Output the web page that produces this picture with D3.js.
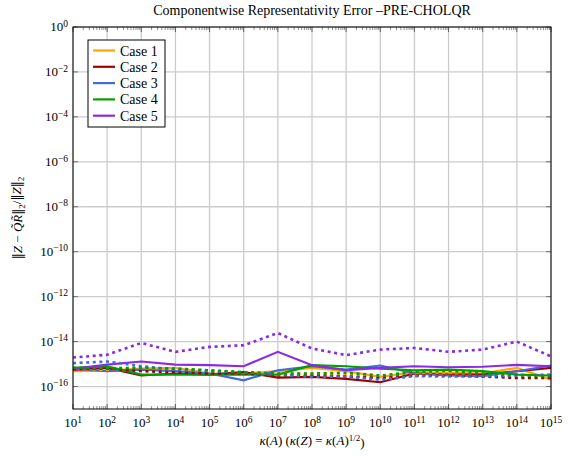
<!DOCTYPE html>
<html>
<head>
<meta charset="utf-8">
<script src="https://cdn.jsdelivr.net/npm/d3@7"></script>
<style>
body { margin: 0; background: #fff; }
text { font-family: "Liberation Serif", "DejaVu Serif", serif; }
</style>
</head>
<body>
<div id="chart"></div>
<script>
const w = 568,
    h = 456;
const margin = {top: 27, right: 17, bottom: 47, left: 73};

// x: kappa(A) = 10^1 .. 10^15
const kappa = [1e1, 1e2, 1e3, 1e4, 1e5, 1e6, 1e7, 1e8, 1e9, 1e10, 1e11, 1e12, 1e13, 1e14, 1e15];
const caseNames = ["Case 1", "Case 2", "Case 3", "Case 4", "Case 5"];
const caseColors = ["#ffa500", "#a00000", "#4169e1", "#00a000", "#8a2be2"];

// solid lines
const case1 = [4.8e-16, 5.1e-16, 6.3e-16, 6.8e-16, 3.8e-16, 3.8e-16, 4.8e-16, 6.8e-16, 4.8e-16, 2.7e-16, 4.4e-16, 4.1e-16, 3.8e-16, 6.8e-16, 2.0e-16];
const case2 = [5.7e-16, 6.8e-16, 3.1e-16, 3.8e-16, 3.4e-16, 4.4e-16, 2.5e-16, 2.7e-16, 2.2e-16, 1.55e-16, 3.8e-16, 3.4e-16, 3.4e-16, 4.8e-16, 6.8e-16];
const case3 = [6.1e-16, 4.8e-16, 5.7e-16, 4.8e-16, 3.8e-16, 1.9e-16, 5.3e-16, 8.0e-16, 5.7e-16, 8.6e-16, 3.8e-16, 3.1e-16, 2.9e-16, 4.8e-16, 8.6e-16];
const case4 = [6.8e-16, 8.0e-16, 3.4e-16, 3.4e-16, 3.4e-16, 3.4e-16, 3.4e-16, 8.9e-16, 8.0e-16, 6.3e-16, 5.3e-16, 5.7e-16, 4.8e-16, 3.4e-16, 3.1e-16];
const case5 = [6.1e-16, 9.5e-16, 1.3e-15, 9.5e-16, 8.9e-16, 8.0e-16, 3.5e-15, 8.9e-16, 5.3e-16, 6.8e-16, 8.0e-16, 7.2e-16, 7.6e-16, 9.2e-16, 8.0e-16];

// dotted lines
const case1b = [5.1e-16, 5.7e-16, 6.5e-16, 6.3e-16, 5.1e-16, 4.2e-16, 3.8e-16, 3.8e-16, 3.4e-16, 2.4e-16, 3.4e-16, 3.4e-16, 2.8e-16, 2.8e-16, 2.4e-16];
const case2b = [5.7e-16, 6.3e-16, 4.9e-16, 4.2e-16, 3.8e-16, 3.8e-16, 3.1e-16, 3.1e-16, 2.8e-16, 2.4e-16, 3.1e-16, 3.1e-16, 2.8e-16, 2.4e-16, 2.4e-16];
const case3b = [1.1e-15, 1.3e-15, 8.0e-16, 5.7e-16, 4.8e-16, 4.2e-16, 3.4e-16, 2.7e-16, 2.8e-16, 2.0e-16, 2.9e-16, 2.8e-16, 2.8e-16, 3.1e-16, 3.4e-16];
const case4b = [6.8e-16, 6.5e-16, 6.8e-16, 6.3e-16, 5.3e-16, 4.4e-16, 3.8e-16, 3.8e-16, 4.1e-16, 3.1e-16, 4.4e-16, 5.1e-16, 3.8e-16, 3.4e-16, 2.8e-16];
const case5b = [1.95e-15, 2.6e-15, 8.7e-15, 3.5e-15, 5.8e-15, 6.9e-15, 2.4e-14, 4.9e-15, 2.5e-15, 4.4e-15, 5.2e-15, 3.5e-15, 4.4e-15, 1.0e-14, 2.2e-15];

const solid = [case1, case2, case3, case4, case5];
const dotted = [case1b, case2b, case3b, case4b, case5b];

const xTicks = d3.range(1, 16);
const yTicks = [0, -2, -4, -6, -8, -10, -12, -14, -16];

const svg = d3.select("#chart")
    .append("svg")
    .attr("width", w)
    .attr("height", h);

const xScale = d3.scaleLog()
    .domain([1e1, 1e15])
    .range([margin.left, w - margin.right]);

const yScale = d3.scaleLog()
    .domain([1e-17, 1e0])
    .range([h - margin.bottom, margin.top]);

const x0 = margin.left, x1 = w - margin.right,
    y0 = h - margin.bottom, y1 = margin.top;

// grid
svg.append("g").selectAll("line")
    .data(xTicks)
    .enter().append("line")
    .attr("x1", d => xScale(Math.pow(10, d)))
    .attr("x2", d => xScale(Math.pow(10, d)))
    .attr("y1", y0).attr("y2", y1)
    .style("stroke", "#cccccc")
    .style("stroke-width", 1.3);

svg.append("g").selectAll("line")
    .data(yTicks)
    .enter().append("line")
    .attr("x1", x0).attr("x2", x1)
    .attr("y1", d => yScale(Math.pow(10, d)))
    .attr("y2", d => yScale(Math.pow(10, d)))
    .style("stroke", "#cccccc")
    .style("stroke-width", 1.3);

// minor ticks on x (inside, top and bottom)
var minor = [];
xTicks.slice(0, -1).forEach(function (e) {
    for (var k = 2; k <= 9; k++) minor.push(k * Math.pow(10, e));
});
[y0, y1].forEach(function (yy, i) {
    var dir = i == 0 ? -1 : 1;
    svg.append("g").selectAll("line")
        .data(minor)
        .enter().append("line")
        .attr("x1", d => xScale(d)).attr("x2", d => xScale(d))
        .attr("y1", yy).attr("y2", yy + dir * 3)
        .style("stroke", "#444")
        .style("stroke-width", 0.6);
    svg.append("g").selectAll("line")
        .data(xTicks)
        .enter().append("line")
        .attr("x1", d => xScale(Math.pow(10, d))).attr("x2", d => xScale(Math.pow(10, d)))
        .attr("y1", yy).attr("y2", yy + dir * 5)
        .style("stroke", "#444")
        .style("stroke-width", 0.8);
});

// y ticks left and right
[x0, x1].forEach(function (xx, i) {
    var dir = i == 0 ? 1 : -1;
    svg.append("g").selectAll("line")
        .data(yTicks)
        .enter().append("line")
        .attr("x1", xx).attr("x2", xx + dir * 5)
        .attr("y1", d => yScale(Math.pow(10, d)))
        .attr("y2", d => yScale(Math.pow(10, d)))
        .style("stroke", "#555")
        .style("stroke-width", 0.8);
});

// lines
const line = d3.line()
    .x((d, i) => xScale(kappa[i]))
    .y(d => yScale(d));

solid.forEach(function (s, i) {
    svg.append("path")
        .datum(s)
        .attr("d", line)
        .style("fill", "none")
        .style("stroke", caseColors[i])
        .style("stroke-width", 2.2);
});
dotted.forEach(function (s, i) {
    svg.append("path")
        .datum(s)
        .attr("d", line)
        .style("fill", "none")
        .style("stroke", caseColors[i])
        .style("stroke-width", 2.6)
        .style("stroke-dasharray", "3,3.6");
});

// frame
svg.append("rect")
    .attr("x", x0).attr("y", y1)
    .attr("width", x1 - x0).attr("height", y0 - y1)
    .style("fill", "none")
    .style("stroke", "#000")
    .style("stroke-width", 1);

// tick labels
function pow10(sel, e) {
    sel.append("tspan").text("10");
    sel.append("tspan")
        .attr("dy", "-0.45em")
        .style("font-size", "9.5px")
        .text(e < 0 ? "\u2212" + (-e) : e);
}

svg.append("g").selectAll("text")
    .data(xTicks)
    .enter().append("text")
    .attr("x", d => xScale(Math.pow(10, d)))
    .attr("y", y0 + 18)
    .attr("text-anchor", "middle")
    .style("font-size", "13px")
    .each(function (d) { pow10(d3.select(this), d); });

svg.append("g").selectAll("text")
    .data(yTicks)
    .enter().append("text")
    .attr("x", x0 - 5)
    .attr("y", d => yScale(Math.pow(10, d)) + 4)
    .attr("text-anchor", "end")
    .style("font-size", "13px")
    .each(function (d) { pow10(d3.select(this), d); });

// title
svg.append("text")
    .attr("x", (x0 + x1) / 2)
    .attr("y", 15)
    .attr("text-anchor", "middle")
    .style("font-size", "14px")
    .text("Componentwise Representativity Error \u2013PRE-CHOLQR");

// x label
var xl = svg.append("text")
    .attr("x", (x0 + x1) / 2)
    .attr("y", 445)
    .attr("text-anchor", "middle")
    .style("font-size", "13px");
xl.append("tspan").style("font-style", "italic").text("\u03ba");
xl.append("tspan").text("(");
xl.append("tspan").style("font-style", "italic").text("A");
xl.append("tspan").text(") (");
xl.append("tspan").style("font-style", "italic").text("\u03ba");
xl.append("tspan").text("(");
xl.append("tspan").style("font-style", "italic").text("Z");
xl.append("tspan").text(") = ");
xl.append("tspan").style("font-style", "italic").text("\u03ba");
xl.append("tspan").text("(");
xl.append("tspan").style("font-style", "italic").text("A");
xl.append("tspan").text(")");
xl.append("tspan").attr("dy", "-0.45em").style("font-size", "9px").text("1/2");
xl.append("tspan").attr("dy", "0.45em").text(")");

// y label
var yl = svg.append("text")
    .attr("transform", "translate(22," + ((y0 + y1) / 2) + ") rotate(-90)")
    .attr("text-anchor", "middle")
    .style("font-size", "13px");
function norm(t) {
    t.append("tspan").style("font-family", "DejaVu Serif").style("font-size", "12px").text("\u2016");
}
norm(yl);
yl.append("tspan").style("font-style", "italic").text("Z");
yl.append("tspan").text(" \u2212 ");
yl.append("tspan").style("font-style", "italic").text("Q\u0303R\u0303");
norm(yl);
yl.append("tspan").attr("dy", "0.3em").style("font-size", "9px").text("2");
yl.append("tspan").attr("dy", "-0.3em").text("/");
norm(yl);
yl.append("tspan").style("font-style", "italic").text("Z");
norm(yl);
yl.append("tspan").attr("dy", "0.3em").style("font-size", "9px").text("2");

// legend
const lg = svg.append("g").attr("transform", "translate(88,40)");
lg.append("rect")
    .attr("width", 77).attr("height", 87)
    .style("fill", "#fff")
    .style("stroke", "#000")
    .style("stroke-width", 1);
caseNames.forEach(function (n, i) {
    var yy = 10.5 + i * 16.3;
    lg.append("line")
        .attr("x1", 5).attr("x2", 27)
        .attr("y1", yy).attr("y2", yy)
        .style("stroke", caseColors[i])
        .style("stroke-width", 2.2);
    lg.append("text")
        .attr("x", 32).attr("y", yy + 5)
        .style("font-size", "14px")
        .text(n);
});
</script>
</body>
</html>
